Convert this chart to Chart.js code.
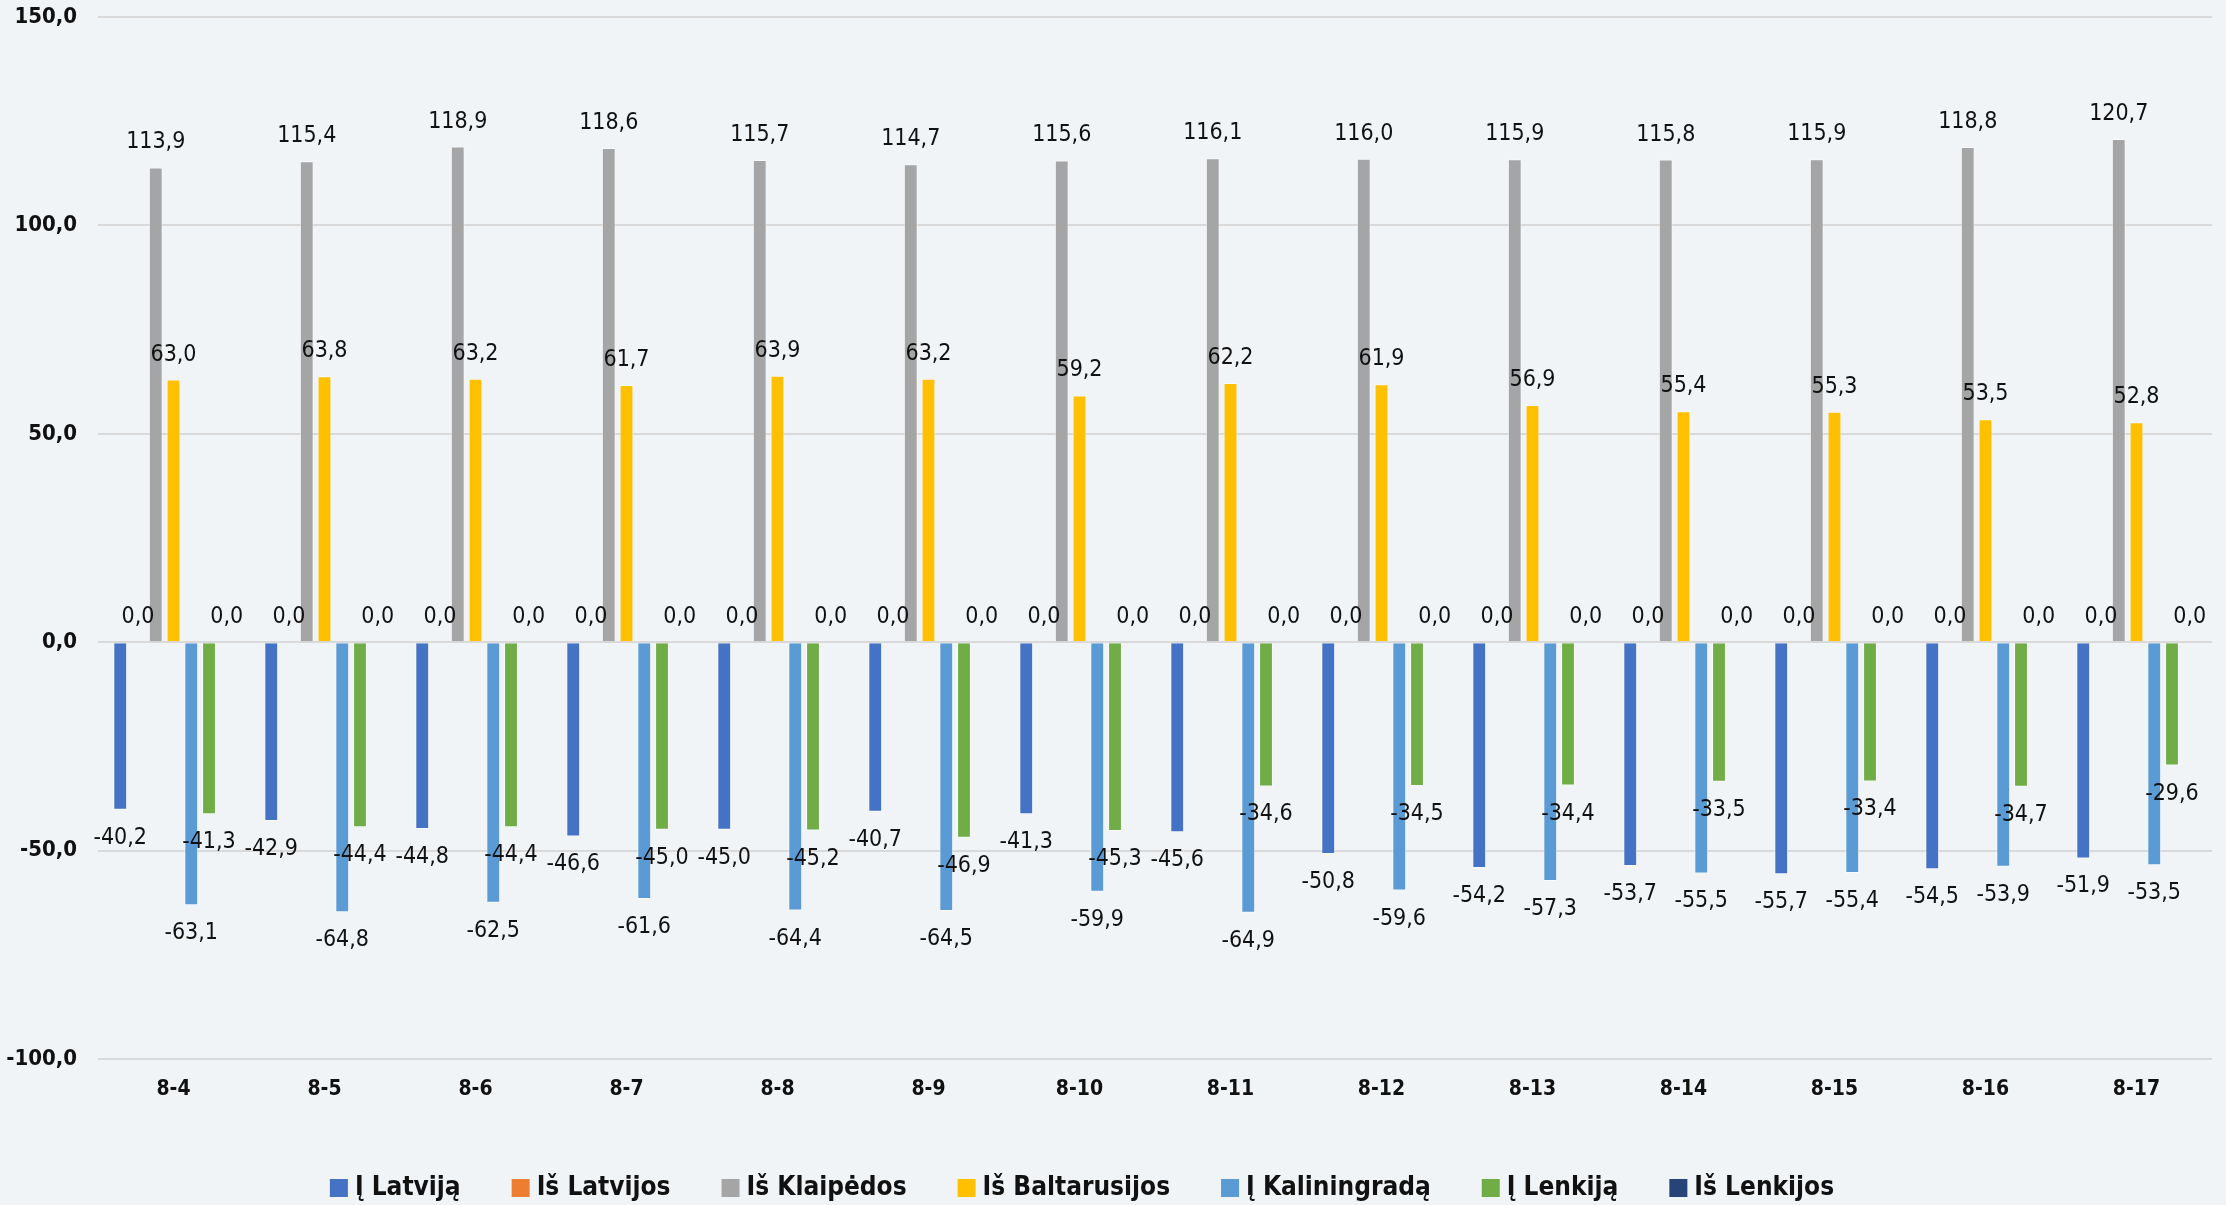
<!DOCTYPE html>
<html>
<head>
<meta charset="utf-8">
<script src="https://cdn.jsdelivr.net/npm/chart.js@4.4.1/dist/chart.umd.min.js"></script>
<style>
  html, body { margin: 0; padding: 0; background: #F0F4F7; }
  #wrap { width: 2226px; height: 1205px; }
</style>
</head>
<body>
<div id="wrap"><canvas id="c" width="2226" height="1205"></canvas></div>
<script>
const categories = ['8-4','8-5','8-6','8-7','8-8','8-9','8-10','8-11','8-12','8-13','8-14','8-15','8-16','8-17'];
const seriesNames = ['Į Latviją','Iš Latvijos','Iš Klaipėdos','Iš Baltarusijos','Į Kaliningradą','Į Lenkiją','Iš Lenkijos'];
const toLatvia      = [-40.2,-42.9,-44.8,-46.6,-45.0,-40.7,-41.3,-45.6,-50.8,-54.2,-53.7,-55.7,-54.5,-51.9];
const fromLatvia    = [0,0,0,0,0,0,0,0,0,0,0,0,0,0];
const fromKlaipeda  = [113.9,115.4,118.9,118.6,115.7,114.7,115.6,116.1,116.0,115.9,115.8,115.9,118.8,120.7];
const fromBelarus   = [63.0,63.8,63.2,61.7,63.9,63.2,59.2,62.2,61.9,56.9,55.4,55.3,53.5,52.8];
const toKaliningrad = [-63.1,-64.8,-62.5,-61.6,-64.4,-64.5,-59.9,-64.9,-59.6,-57.3,-55.5,-55.4,-53.9,-53.5];
const toPoland      = [-41.3,-44.4,-44.4,-45.0,-45.2,-46.9,-45.3,-34.6,-34.5,-34.4,-33.5,-33.4,-34.7,-29.6];
const fromPoland    = [0,0,0,0,0,0,0,0,0,0,0,0,0,0];
const yTicks = [-100, -50, 0, 50, 100, 150];

const seriesValues = [toLatvia, fromLatvia, fromKlaipeda, fromBelarus, toKaliningrad, toPoland, fromPoland];
const colors = ['#4472C4','#ED7D31','#A5A5A5','#FFC000','#5B9BD5','#70AD47','#264478'];
const FONT = "'Liberation Sans Narrow', 'DejaVu Sans Condensed', 'Open Sans', sans-serif";

function fmt(v) { return v.toFixed(1).replace('.', ','); }

const bgPlugin = {
  id: 'bg',
  beforeDraw(chart) {
    const ctx = chart.ctx;
    ctx.save();
    ctx.fillStyle = '#F0F4F7';
    ctx.fillRect(0, 0, chart.width, chart.height);
    ctx.restore();
  }
};

const labelPlugin = {
  id: 'valueLabels',
  afterDatasetsDraw(chart) {
    const ctx = chart.ctx;
    ctx.save();
    ctx.font = "23px " + FONT;
    ctx.fillStyle = '#111111';
    ctx.textAlign = 'center';
    ctx.textBaseline = 'middle';
    chart.data.datasets.forEach((ds, di) => {
      const meta = chart.getDatasetMeta(di);
      meta.data.forEach((el, i) => {
        const v = ds.data[i];
        const y = v >= 0 ? el.y - 25 : el.y + 28;
        ctx.fillText(fmt(v), el.x, y);
      });
    });
    ctx.restore();
  }
};

// legend drawn from the dataset labels/colours
const legendPlugin = {
  id: 'bottomLegend',
  afterDraw(chart) {
    const ctx = chart.ctx;
    ctx.save();
    ctx.font = "bold 26px " + FONT;
    ctx.textBaseline = 'middle';
    ctx.textAlign = 'left';
    const box = 18, gap = 7, spacing = 51;
    const items = chart.data.datasets.map(ds => ({ label: ds.label, color: ds.backgroundColor, w: box + gap + ctx.measureText(ds.label).width }));
    const total = items.reduce((s, it) => s + it.w, 0) + spacing * (items.length - 1);
    let x = 1082 - total / 2;
    const cy = 1188;
    items.forEach(it => {
      ctx.fillStyle = it.color;
      ctx.fillRect(x, cy - box / 2, box, box);
      ctx.fillStyle = '#111111';
      ctx.fillText(it.label, x + box + gap, cy);
      x += it.w + spacing;
    });
    ctx.restore();
  }
};

new Chart(document.getElementById('c'), {
  type: 'bar',
  data: {
    labels: categories,
    datasets: seriesNames.map((name, k) => ({
      label: name,
      data: seriesValues[k],
      backgroundColor: colors[k],
      borderColor: 'rgba(255,255,255,0.55)',
      borderWidth: 1,
      categoryPercentage: 0.823,
      barPercentage: 0.78
    }))
  },
  options: {
    responsive: false,
    devicePixelRatio: 1,
    animation: false,
    layout: { padding: { top: 17, right: 14, left: 0, bottom: 80 } },
    plugins: {
      title: { display: false },
      tooltip: { enabled: false },
      legend: { display: false }
    },
    scales: {
      x: {
        grid: { display: false, drawTicks: false },
        border: { display: false },
        ticks: {
          padding: 18,
          color: '#111111',
          font: { family: FONT, size: 21, weight: 'bold' }
        },
        afterFit(scale) { scale.height = 66; }
      },
      y: {
        min: -100,
        max: 150,
        afterBuildTicks(scale) { scale.ticks = yTicks.map(v => ({ value: v })); },
        grid: { color: '#D9D9D9', lineWidth: 2, drawTicks: false },
        border: { display: false },
        ticks: {
          padding: 21,
          color: '#111111',
          font: { family: FONT, size: 22, weight: 'bold' },
          callback: (v) => fmt(v)
        },
        afterFit(scale) { scale.width = 98; scale.paddingTop = 0; scale.paddingBottom = 0; }
      }
    }
  },
  plugins: [bgPlugin, labelPlugin, legendPlugin]
});
</script>
</body>
</html>
